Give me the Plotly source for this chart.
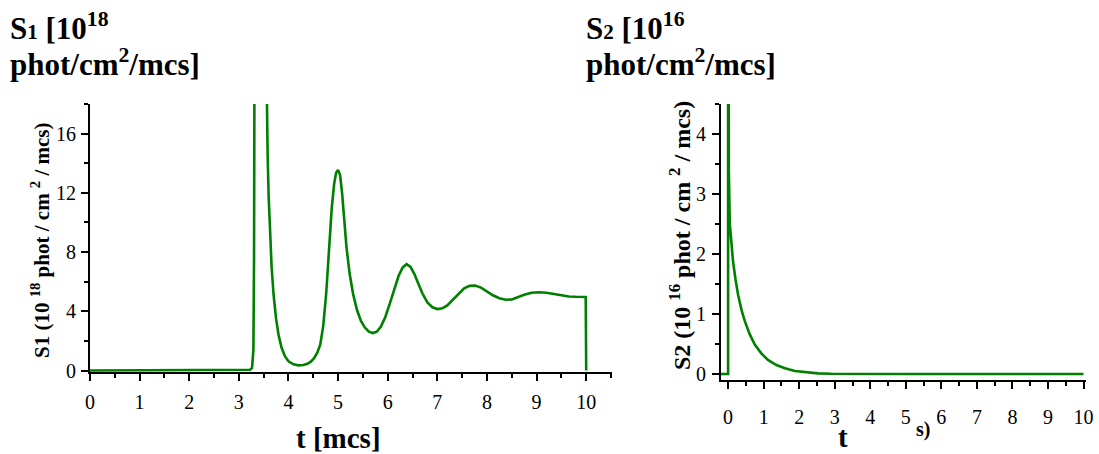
import plotly.graph_objects as go

# ---- data ----
t1 = [0.0, 1.0, 2.0, 3.0, 3.15, 3.226, 3.266, 3.293, 3.306, 3.313, 3.35, 3.44, 3.52,
      3.56, 3.58, 3.60, 3.63, 3.66, 3.70, 3.75, 3.80, 3.86, 3.93, 4.00, 4.10, 4.20,
      4.30, 4.38, 4.45, 4.52, 4.58, 4.64, 4.70, 4.76, 4.82, 4.87, 4.92, 4.96, 5.00,
      5.04, 5.08, 5.12, 5.17, 5.23, 5.30, 5.38, 5.46, 5.54, 5.62, 5.70, 5.78, 5.86,
      5.95, 6.05, 6.14, 6.22, 6.30, 6.38, 6.46, 6.54, 6.62, 6.70, 6.80, 6.90, 7.00,
      7.10, 7.20, 7.30, 7.42, 7.54, 7.65, 7.76, 7.88, 8.00, 8.12, 8.25, 8.38, 8.50,
      8.62, 8.75, 8.90, 9.05, 9.20, 9.35, 9.50, 9.65, 9.80, 9.99, 10.0]
s1 = [0.0, 0.0, 0.0, 0.0, 0.01, 0.05, 0.18, 1.41, 7.68, 17.95, 32.0, 45.0, 30.0,
      18.0, 14.5, 11.8, 9.0, 7.0, 5.1, 3.5, 2.4, 1.55, 0.95, 0.62, 0.42, 0.35,
      0.37, 0.45, 0.6, 0.85, 1.2, 1.75, 3.0, 5.2, 8.3, 10.9, 12.6, 13.35, 13.55,
      13.2, 12.0, 10.3, 8.3, 6.6, 5.2, 4.1, 3.35, 2.9, 2.62, 2.53, 2.62, 2.95,
      3.6, 4.6, 5.6, 6.4, 6.95, 7.18, 7.0, 6.5, 5.85, 5.2, 4.6, 4.27, 4.15,
      4.2, 4.4, 4.75, 5.2, 5.55, 5.72, 5.74, 5.6, 5.35, 5.08, 4.88, 4.78, 4.8,
      4.95, 5.12, 5.25, 5.29, 5.25, 5.15, 5.05, 5.0, 4.98, 4.97, 0.0]

t2 = [-0.2, 0.0, 0.0, 0.005, 0.02, 0.048, 0.095, 0.14, 0.21, 0.28, 0.38, 0.47,
      0.61, 0.75, 0.94, 1.13, 1.36, 1.6, 1.88, 2.16, 2.53, 2.9, 3.5, 5.0, 7.0, 10.0]
s2 = [0.0, 0.0, 10.0, 6.0, 3.4, 2.5, 2.15, 1.87, 1.57, 1.32, 1.06, 0.88,
      0.66, 0.49, 0.34, 0.23, 0.15, 0.095, 0.05, 0.028, 0.01, 0.003, 0.0, 0.0, 0.0, 0.0]

x_ticks = [0, 1, 2, 3, 4, 5, 6, 7, 8, 9, 10]
y1_ticks = [0, 4, 8, 12, 16]
y2_ticks = [0, 1, 2, 3, 4]

W, H = 1099, 454
GREEN = "#008000"
SERIF = "Liberation Serif"


def px_x(p):
    return p / W


def px_y(p):
    return 1 - p / H


fig = go.Figure()
fig.add_trace(go.Scatter(x=t1, y=s1, mode="lines", line=dict(color=GREEN, width=2.6),
                         xaxis="x", yaxis="y", showlegend=False, hoverinfo="skip"))
fig.add_trace(go.Scatter(x=t2, y=s2, mode="lines", line=dict(color=GREEN, width=2.6),
                         xaxis="x2", yaxis="y2", showlegend=False, hoverinfo="skip"))


def axis(domain, rng, ticks, minor_dtick, anchor, standoff):
    return dict(domain=domain, range=rng, anchor=anchor, tickmode="array",
                tickvals=ticks, ticktext=[str(v) for v in ticks],
                ticklabelstandoff=standoff,
                showline=True, linecolor="black", linewidth=2, ticks="outside",
                tickcolor="black", tickwidth=2, ticklen=7, showgrid=False,
                zeroline=False, mirror=False, automargin=False,
                tickfont=dict(family=SERIF, size=20, color="black"),
                minor=dict(dtick=minor_dtick, tick0=0, ticks="outside", ticklen=4,
                           tickwidth=2, tickcolor="black", showgrid=False))


fig.update_layout(
    width=W, height=H, margin=dict(l=0, r=0, t=0, b=0, autoexpand=False),
    font=dict(family=SERIF, size=20, color="black"),
    paper_bgcolor="white", plot_bgcolor="white", showlegend=False,
    xaxis=axis([px_x(90), px_x(612)], [0, 10.52], x_ticks, 0.5, "y", 4),
    yaxis=axis([px_y(372), px_y(104)], [-0.1, 18], y1_ticks, 2, "x", 1),
    xaxis2=axis([px_x(721), px_x(1086)], [-0.2, 10.07], x_ticks, 0.5, "y2", 11),
    yaxis2=axis([px_y(380), px_y(104)], [-0.1, 4.5], y2_ticks, 0.5, "x2", 2),
)


def ann(text, x, y, size, xanchor="center", yanchor="middle", angle=0):
    fig.add_annotation(text=text, x=px_x(x), y=px_y(y), xref="paper", yref="paper",
                       xanchor=xanchor, yanchor=yanchor, showarrow=False,
                       textangle=angle, borderpad=0,
                       font=dict(family=SERIF, size=size, color="black"))


SUB = "<span style='font-size:21px'>{}</span>"

# panel titles
ann("<b>S" + SUB.format("1") + " [10<sup>18</sup></b>", 9, 26, 31, xanchor="left")
ann("<b>phot/cm<sup>2</sup>/mcs]</b>", 9, 63, 31, xanchor="left")
ann("<b>S" + SUB.format("2") + " [10<sup>16</sup></b>", 585, 26, 31, xanchor="left")
ann("<b>phot/cm<sup>2</sup>/mcs]</b>", 585, 63, 31, xanchor="left")

# axis titles
ann("<b>t [mcs]</b>", 338, 438, 29)
ann("<b>t</b>", 843, 437, 29)
ann("<b>s)</b>", 923, 429, 20)
ann("<b>S1 (10 <sup>18</sup> phot / cm <sup>2</sup> / mcs)</b>", 40, 240, 21, angle=-90)
ann("<b>S2 (10 <sup>16</sup> phot / cm <sup>2</sup> / mcs)</b>", 680, 236, 24, angle=-90)

fig.write_html("out.html", config={"displayModeBar": False},
               post_script="document.body.style.margin='0px';")
